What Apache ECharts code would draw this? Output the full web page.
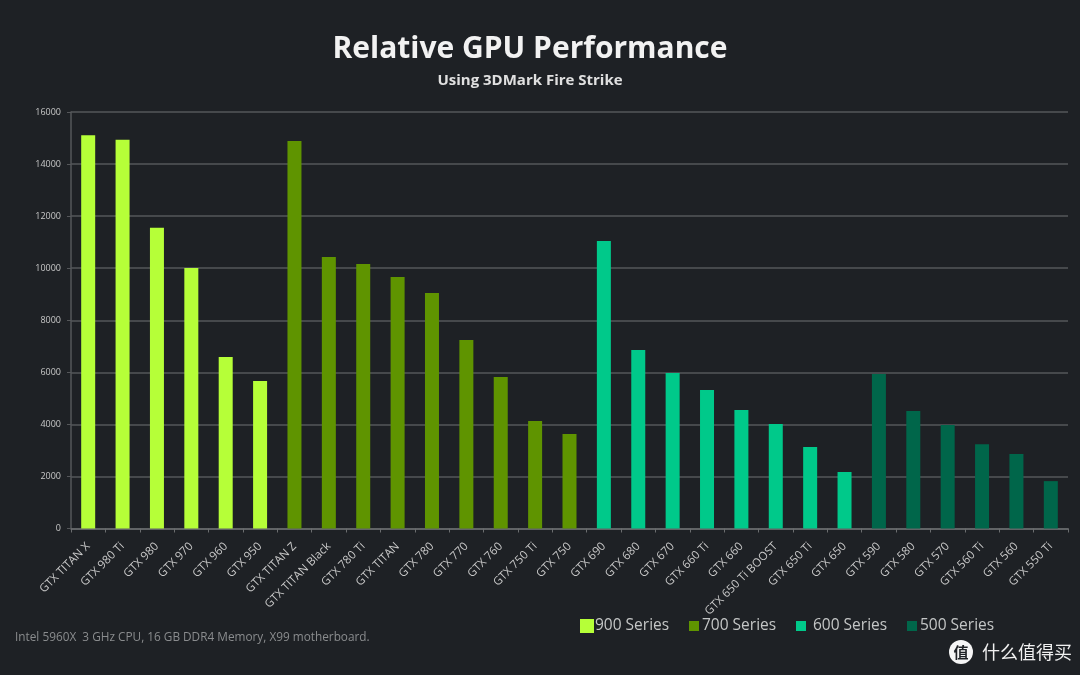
<!DOCTYPE html>
<html><head><meta charset="utf-8">
<style>html,body{margin:0;padding:0;background:#1e2125}#c{width:1080px;height:675px}</style>
<script src="https://cdn.jsdelivr.net/npm/echarts@6/dist/echarts.min.js"></script>
</head><body><div id="c"></div>
<script>
const categories900 = ["GTX TITAN X","GTX 980 Ti","GTX 980","GTX 970","GTX 960","GTX 950"];
const values900 = [15110,14930,11550,10010,6590,5670];
const categories700 = ["GTX TITAN Z","GTX TITAN Black","GTX 780 Ti","GTX TITAN","GTX 780","GTX 770","GTX 760","GTX 750 Ti","GTX 750"];
const values700 = [14890,10430,10160,9660,9050,7240,5820,4130,3630];
const categories600 = ["GTX 690","GTX 680","GTX 670","GTX 660 Ti","GTX 660","GTX 650 Ti BOOST","GTX 650 Ti","GTX 650"];
const values600 = [11040,6860,5970,5320,4550,4010,3130,2170];
const categories500 = ["GTX 590","GTX 580","GTX 570","GTX 560 Ti","GTX 560","GTX 550 Ti"];
const values500 = [5935,4510,3980,3240,2860,1820];
const groups = [
  {name:"900 Series",cats:categories900,vals:values900,color:"#b6ff38"},
  {name:"700 Series",cats:categories700,vals:values700,color:"#5f9400"},
  {name:"600 Series",cats:categories600,vals:values600,color:"#00c98a"},
  {name:"500 Series",cats:categories500,vals:values500,color:"#00664a"}
];
const categories = groups.flatMap(g=>g.cats);
let offset = 0;
const series = groups.map(g=>{
  const data = categories.map(()=>null);
  g.vals.forEach((v,i)=>{data[offset+i]=v;});
  offset += g.vals.length;
  return {name:g.name,type:"bar",stack:"all",barWidth:14,data,itemStyle:{color:g.color},emphasis:{disabled:true}};
});
const font = '"Open Sans", sans-serif';
const legendLefts = [575,684,791,902];
const legendSizes = [14,10,10,10];
const chart = echarts.init(document.getElementById("c"),null,{renderer:"canvas"});
chart.setOption({
  animation:false,
  backgroundColor:"#1e2125",
  title:[
    {text:"Relative GPU Performance",left:525,top:29,textAlign:"center",textStyle:{fontFamily:font,fontSize:30,fontWeight:700,color:"#f2f2f2"}},
    {text:"Using 3DMark Fire Strike",left:525,top:68,textAlign:"center",textStyle:{fontFamily:font,fontSize:15,fontWeight:700,color:"#e0e0e0"}},
    {text:"Intel 5960X  3 GHz CPU, 16 GB DDR4 Memory, X99 motherboard.",left:10,top:627,textStyle:{fontFamily:font,fontSize:11.8,fontWeight:400,color:"#8a8c8e"}},
    {text:"什么值得买",left:977,top:638,textStyle:{fontFamily:'"Noto Sans CJK SC"',fontSize:18,fontWeight:400,color:"#f0f0f0"}}
  ],
  legend:groups.map((g,i)=>({
    data:[g.name],left:legendLefts[i],top:613,itemWidth:legendSizes[i],itemHeight:legendSizes[i],itemGap:0,
    icon:"rect",selectedMode:false,
    textStyle:{fontFamily:font,fontSize:15.5,color:"#c4c6c6",padding:[0,0,0,i===0?-4:(i===2?2:-2)]}
  })),
  grid:{left:71,right:12,top:112,bottom:146.5,containLabel:false},
  xAxis:{
    type:"category",data:categories,
    axisLine:{lineStyle:{color:"#6b6d6f",width:1.5}},
    axisTick:{show:true,length:4,alignWithLabel:false,lineStyle:{color:"#6b6d6f"}},
    axisLabel:{interval:0,rotate:45,margin:16,fontFamily:font,fontSize:11.5,color:"#c8c8c8"}
  },
  yAxis:{
    type:"value",min:0,max:16000,interval:2000,
    axisLine:{show:true,lineStyle:{color:"#55575a",width:1.5}},
    axisTick:{show:true,length:4,lineStyle:{color:"#55575a"}},
    splitLine:{lineStyle:{color:"#55575a",width:1.5}},
    axisLabel:{margin:10,fontFamily:font,fontSize:9,color:"#c8c8c8",formatter:v=>String(v)}
  },
  series,
  graphic:[
    {type:"circle",shape:{cx:961,cy:652,r:12},style:{fill:"#f5f5f5"},silent:true},
    {type:"text",x:961,y:652,style:{text:"值",fill:"#1e2125",fontSize:15,fontWeight:700,fontFamily:'"Noto Sans CJK SC"',align:"center",verticalAlign:"middle"},silent:true}
  ]
});
</script></body></html>
